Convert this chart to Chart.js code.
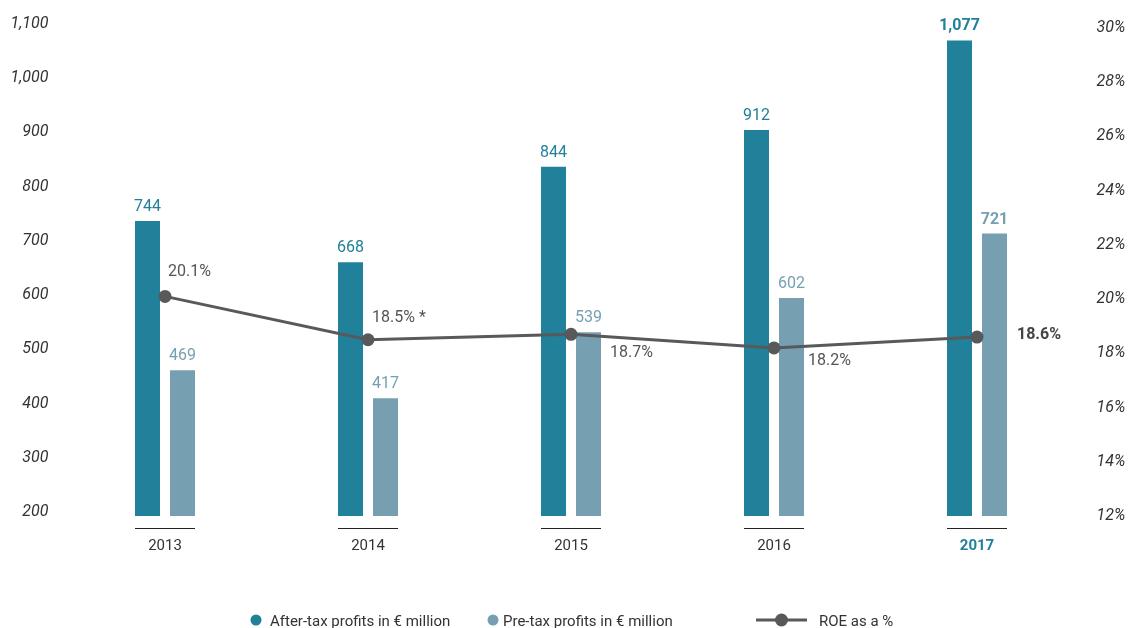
<!DOCTYPE html>
<html>
<head>
<meta charset="utf-8">
<script src="https://cdn.jsdelivr.net/npm/chart.js@4/dist/chart.umd.min.js"></script>
<style>
  html, body { margin: 0; padding: 0; background: #fff; }
  #wrap { width: 1129px; height: 628px; }
</style>
</head>
<body>
<div id="wrap"><canvas id="chart" width="1129" height="628"></canvas></div>
<script>
// data
var years = ["2013", "2014", "2015", "2016", "2017"];
var afterTax = [744, 668, 844, 912, 1077];
var preTax = [469, 417, 539, 602, 721];
var roe = [20.1, 18.5, 18.7, 18.2, 18.6];
var roeLabels = ["20.1%", "18.5% *", "18.7%", "18.2%", "18.6%"];
var leftTicks = [200, 1100, 100];   // min, max, step
var rightTicks = [12, 30, 2];

var legendNames = ["After-tax profits in \u20ac million", "Pre-tax profits in \u20ac million", "ROE as a %"];

var darkTeal = "#21809a";
var lightBlue = "#76a0b2";
var lineGrey = "#58595b";
var fontFam = "Roboto, 'Open Sans', sans-serif";

// where each ROE label sits relative to its point (dx, dy of baseline)
var roeLabelPos = [[3, -20], [4, -18], [39, 23], [34, 17], [40, 2]];

var labelsPlugin = {
  id: "labels",
  afterDatasetsDraw: function(chart) {
    var ctx = chart.ctx;
    var area = chart.chartArea;
    var m0 = chart.getDatasetMeta(0);
    var m1 = chart.getDatasetMeta(1);
    var m2 = chart.getDatasetMeta(2);
    ctx.save();
    ctx.textAlign = "center";
    ctx.textBaseline = "alphabetic";
    for (var i = 0; i < years.length; i++) {
      var last = i === years.length - 1;
      var b0 = m0.data[i], b1 = m1.data[i];
      ctx.font = (last ? "bold " : "") + "16px " + fontFam;
      ctx.fillStyle = darkTeal;
      ctx.fillText(afterTax[i].toLocaleString("en-US"), b0.x, b0.y - 10);
      ctx.fillStyle = lightBlue;
      ctx.fillText(preTax[i].toLocaleString("en-US"), b1.x, b1.y - 10);

      // short underline below each pair
      var x0 = b0.x - b0.width / 2, x1 = b1.x + b1.width / 2;
      ctx.strokeStyle = "#222";
      ctx.lineWidth = 1;
      ctx.beginPath();
      ctx.moveTo(x0, area.bottom + 12.5);
      ctx.lineTo(x1, area.bottom + 12.5);
      ctx.stroke();

      // ROE labels
      var p = m2.data[i];
      ctx.textAlign = "left";
      ctx.font = (last ? "bold " : "") + "16px " + fontFam;
      ctx.fillStyle = last ? "#444" : "#555";
      ctx.fillText(roeLabels[i], p.x + roeLabelPos[i][0], p.y + roeLabelPos[i][1]);
      ctx.textAlign = "center";
    }
    ctx.restore();
  },
  afterDraw: function(chart) {
    // legend along the bottom edge
    var ctx = chart.ctx;
    var y = 621;
    ctx.save();
    ctx.font = "15px " + fontFam;
    ctx.textBaseline = "middle";
    ctx.textAlign = "left";
    ctx.fillStyle = darkTeal;
    ctx.beginPath(); ctx.arc(256, y - 1, 5.5, 0, Math.PI * 2); ctx.fill();
    ctx.fillStyle = lightBlue;
    ctx.beginPath(); ctx.arc(493, y - 1, 5.5, 0, Math.PI * 2); ctx.fill();
    ctx.strokeStyle = lineGrey;
    ctx.lineWidth = 3;
    ctx.beginPath(); ctx.moveTo(756, y - 1); ctx.lineTo(807, y - 1); ctx.stroke();
    ctx.fillStyle = lineGrey;
    ctx.beginPath(); ctx.arc(781.5, y - 1, 6.5, 0, Math.PI * 2); ctx.fill();
    ctx.fillStyle = "#333";
    ctx.fillText(legendNames[0], 270, y + 1);
    ctx.fillText(legendNames[1], 503, y + 1);
    ctx.fillText(legendNames[2], 819, y + 1);
    ctx.restore();
  }
};

new Chart(document.getElementById("chart"), {
  type: "bar",
  data: {
    labels: years,
    datasets: [
      {
        label: legendNames[0],
        data: afterTax,
        backgroundColor: darkTeal,
        yAxisID: "y",
        categoryPercentage: 0.345,
        barPercentage: 0.714,
        order: 2
      },
      {
        label: legendNames[1],
        data: preTax,
        backgroundColor: lightBlue,
        yAxisID: "y",
        categoryPercentage: 0.345,
        barPercentage: 0.714,
        order: 2
      },
      {
        type: "line",
        label: legendNames[2],
        data: roe,
        yAxisID: "y1",
        borderColor: lineGrey,
        borderWidth: 3,
        pointRadius: 6.5,
        pointBackgroundColor: lineGrey,
        pointBorderWidth: 0,
        tension: 0,
        order: 0
      }
    ]
  },
  options: {
    responsive: false,
    devicePixelRatio: 1,
    animation: false,
    layout: { padding: { top: 28, left: 0, right: 0, bottom: 0 } },
    plugins: {
      legend: { display: false },
      tooltip: { enabled: false }
    },
    scales: {
      x: {
        grid: { display: false, drawTicks: false },
        border: { display: false },
        ticks: {
          padding: 21,
          color: function(c) { return c.index === 4 ? darkTeal : "#333"; },
          font: function(c) {
            return { family: fontFam, size: 15, weight: c.index === 4 ? "bold" : "normal" };
          }
        },
        afterFit: function(s) { s.height = 112; }
      },
      y: {
        position: "left",
        min: leftTicks[0],
        max: leftTicks[1],
        grid: { display: false, drawTicks: false },
        border: { display: false },
        ticks: {
          stepSize: leftTicks[2],
          padding: 15,
          labelOffset: -4,
          color: "#333",
          font: { family: fontFam, size: 16, style: "italic" },
          callback: function(v) { return v.toLocaleString("en-US"); }
        },
        afterFit: function(s) { s.width = 63.5; }
      },
      y1: {
        position: "right",
        min: rightTicks[0],
        max: rightTicks[1],
        grid: { display: false, drawTicks: false },
        border: { display: false },
        ticks: {
          stepSize: rightTicks[2],
          padding: 18,
          color: "#333",
          font: { family: fontFam, size: 16, style: "italic" },
          callback: function(v) { return v + "%"; }
        },
        afterFit: function(s) { s.width = 50.5; }
      }
    }
  },
  plugins: [labelsPlugin]
});
</script>
</body>
</html>
